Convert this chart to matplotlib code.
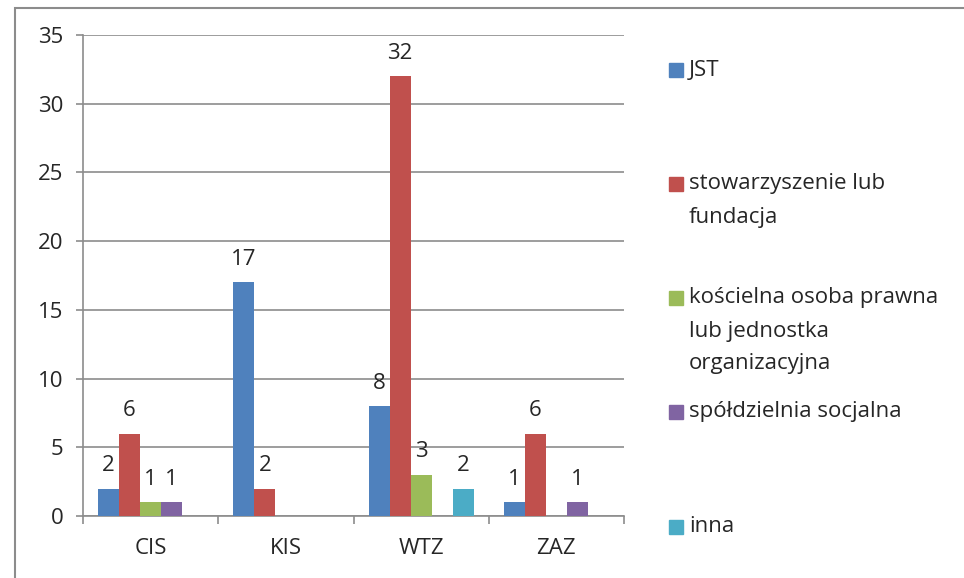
import numpy as np
import matplotlib
matplotlib.use('Agg')
import matplotlib.pyplot as plt
from matplotlib.patches import Rectangle

## Data
categories = ['CIS', 'KIS', 'WTZ', 'ZAZ']
series_names = ['JST',
                'stowarzyszenie lub\nfundacja',
                'kościelna osoba prawna\nlub jednostka\norganizacyjna',
                'spółdzielnia socjalna',
                'inna']
jst = [2, 17, 8, 1]
stowarzyszenie = [6, 2, 32, 6]
koscielna = [1, 0, 3, 0]
spoldzielnia = [1, 0, 0, 1]
inna = [0, 0, 2, 0]
series_values = [jst, stowarzyszenie, koscielna, spoldzielnia, inna]
y_ticks = [0, 5, 10, 15, 20, 25, 30, 35]

## Style
colors = ['#4F81BD', '#C0504D', '#9BBB59', '#8064A2', '#4BACC6']
grid_color = '#8C8C8C'
text_color = '#262626'
plt.rcParams['font.family'] = ['Open Sans', 'DejaVu Sans']
font_size = 16

W, H = 964, 578
fig = plt.figure(figsize=(W / 100, H / 100), dpi=100)
ax = fig.add_axes([83 / W, 1 - 516 / H, (624 - 83) / W, (516 - 35) / H])

x = np.arange(len(categories))
bar_w = 21 / 135
n_series = len(series_values)

for i, (vals, col) in enumerate(zip(series_values, colors)):
    offs = (i - (n_series - 1) / 2) * bar_w
    vals = np.array(vals, dtype=float)
    ax.bar(x + offs, vals, width=bar_w, color=col, edgecolor='none', zorder=3)
    for xi, v in zip(x + offs, vals):
        if v > 0:
            ax.annotate('{:d}'.format(int(v)), (xi, v), xytext=(0, 9),
                        textcoords='offset points', ha='center', va='bottom',
                        fontsize=font_size, color=text_color)

ax.set_xlim(-0.5, len(categories) - 0.5)
ax.set_ylim(0, 35)
ax.set_yticks(y_ticks)
ax.yaxis.grid(True, color=grid_color, linewidth=1.2, zorder=0)
ax.set_axisbelow(True)

# boundary ticks, labels in the middle
ax.set_xticks(np.arange(-0.5, len(categories)))
ax.set_xticklabels([])
ax.set_xticks(x, minor=True)
ax.set_xticklabels(categories, minor=True)
ax.tick_params(axis='x', which='major', direction='out', length=6, width=1.2, color=grid_color)
ax.tick_params(axis='x', which='minor', length=0, pad=16, labelsize=font_size, labelcolor=text_color)
ax.tick_params(axis='y', direction='out', length=5, width=1.2, color=grid_color, pad=9,
               labelsize=font_size, labelcolor=text_color)

for s in ['top', 'right']:
    ax.spines[s].set_visible(False)
for s in ['left', 'bottom']:
    ax.spines[s].set_color(grid_color)
    ax.spines[s].set_linewidth(1.2)

## Legend (drawn by hand, Excel spreads the entries over the height)
legend_y = [70, 184, 298, 412, 527]
line_h = 33
for name, col, yy in zip(series_names, colors, legend_y):
    fig.patches.append(Rectangle((669 / W, 1 - (yy + 7) / H), 14 / W, 14 / H,
                                 transform=fig.transFigure, color=col, figure=fig))
    for k, line in enumerate(name.split('\n')):
        fig.text(689 / W, 1 - (yy + k * line_h) / H, line, ha='left', va='center',
                 fontsize=font_size, color=text_color)

## Outer frame
fig.patches.append(Rectangle((15.5 / W, -0.1), 1.2, 1 - 8 / H + 0.1,
                             transform=fig.transFigure, fill=False,
                             edgecolor='#8C8C8C', linewidth=1.5, figure=fig))

fig.savefig('out.png', dpi=100)
